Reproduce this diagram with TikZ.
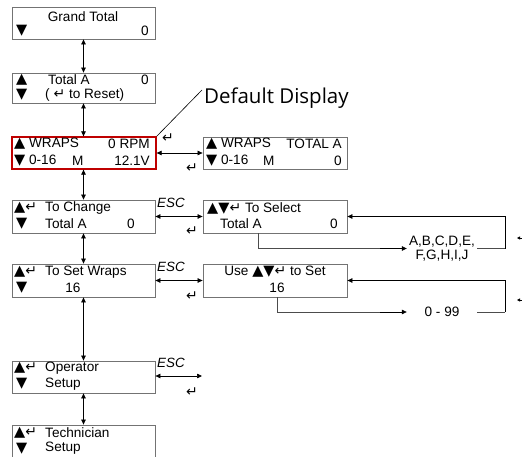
\documentclass[tikz,border=0pt]{standalone}
\usepackage{fontspec}
\setmainfont{Liberation Sans}
\newfontfamily\symf{DejaVu Sans}
\newfontfamily\ddfont{Open Sans}
\usetikzlibrary{arrows.meta}
\newcommand{\up}{{\symf\fontsize{14.5}{14}\selectfont ▲}}
\newcommand{\dn}{{\symf\fontsize{14.5}{14}\selectfont ▼}}
\newcommand{\ret}{{\symf\fontsize{14}{14}\selectfont ↵}}
\begin{document}
\begin{tikzpicture}[x=1pt,y=-1pt,
  box/.style={draw=black!55,line width=0.8pt,minimum width=143pt,minimum height=32pt,inner sep=0pt},
  redbox/.style={draw=red!75!black,line width=1.3pt,minimum width=144pt,minimum height=32pt,inner sep=0pt},
  txt/.style={inner sep=0pt,font=\fontsize{13.6}{14}\selectfont},
  lt/.style={txt,anchor=west},
  rt/.style={txt,anchor=east},
  dbl/.style={{Triangle[length=5pt,width=4.5pt]}-{Triangle[length=5pt,width=4.5pt]},line width=0.7pt},
  arr/.style={-{Triangle[length=5pt,width=4.5pt]},line width=0.7pt},
  ln/.style={line width=0.7pt,draw=black!70},
  esc/.style={inner sep=0pt,font=\fontsize{13.4}{14}\selectfont\itshape},
  rg/.style={inner sep=0pt}]
\useasboundingbox (0,0) rectangle (522,457);
% boxes
\node[box] (gt) at (83.5,23) {};
\node[box,minimum height=30pt] (ta) at (83.5,88) {};
\node[redbox] (wr) at (84,153) {};
\node[box,minimum width=144pt] (wr2) at (275,153) {};
\node[box,minimum height=33pt] (tc) at (83.5,216.5) {};
\node[box,minimum width=144pt,minimum height=33pt] (ts) at (275,216.5) {};
\node[box,minimum height=33pt] (sw) at (83.5,280.5) {};
\node[box,minimum width=144pt,minimum height=33pt] (use) at (275,280.5) {};
\node[box] (op) at (83.5,377) {};
\node[box] (tech) at (83.5,441) {};
% texts
\node[txt] (gt1) at (83,17) {Grand Total};
\node[lt] (gt2) at (16,31) {\dn};
\node[rt] (gt3) at (149,31) {0};
\node[lt] (ta1) at (16,80) {\up};
\node[lt] (ta2) at (48,80) {Total A};
\node[rt] (ta3) at (149,80) {0};
\node[lt] (ta4) at (16,94.5) {\dn};
\node[lt] (ta5) at (45,94.5) {( \ret\ to Reset)};
\node[lt] (wr1) at (14,144) {\up\ WRAPS};
\node[rt] (wr3) at (150,144) {0 RPM};
\node[lt] (wr4) at (14,161) {\dn\ 0-16};
\node[lt] (wr5) at (72,161) {M};
\node[rt] (wr6) at (150,161) {12.1V};
\node[lt] (wq1) at (206,144) {\up\ WRAPS};
\node[rt] (wq3) at (342,144) {TOTAL A};
\node[lt] (wq4) at (206,161) {\dn\ 0-16};
\node[lt] (wq5) at (263,161) {M};
\node[rt] (wq6) at (342,161) {0};
\node[lt] (tc1) at (14,208) {\up\ret};
\node[lt] (tc2) at (45,208) {To Change};
\node[lt] (tc3) at (16,224) {\dn};
\node[lt] (tc4) at (45,224) {Total A};
\node[rt] (tc5) at (135,224) {0};
\node[lt] (ts1) at (207,208) {\up\dn\ret\ To Select};
\node[lt] (ts2) at (220,224) {Total A};
\node[rt] (ts3) at (338,224) {0};
\node[lt] (sw1) at (14,272) {\up\ret};
\node[lt] (sw2) at (45,272) {To Set Wraps};
\node[lt] (sw3) at (16,288) {\dn};
\node[txt] (sw4) at (73,288) {16};
\node[txt] (us1) at (275,272) {Use \up\dn\ret\ to Set};
\node[txt] (us2) at (277,288) {16};
\node[lt] (op1) at (14,368) {\up\ret};
\node[lt] (op2) at (45,368) {Operator};
\node[lt] (op3) at (16,384) {\dn};
\node[lt] (op4) at (45,384) {Setup};
\node[lt] (te1) at (14,433) {\up\ret};
\node[lt] (te2) at (45,433) {Technician};
\node[lt] (te3) at (16,448.5) {\dn};
\node[lt] (te4) at (45,448.5) {Setup};
% default display
\node[inner sep=0pt,anchor=west,font=\ddfont\fontsize{20.5}{21}\selectfont] (dd) at (204,98) {Default Display};
\coordinate (ddl) at (202,90);
\draw[line width=0.6pt] (wr.north east) -- (ddl);
% vertical arrows
\draw[dbl] (gt.south) -- (ta.north);
\draw[dbl] (ta.south) -- (wr.north -| ta.south);
\draw[dbl] (wr.south -| tc.north) -- (tc.north);
\draw[dbl] (tc.south) -- (sw.north);
\draw[dbl] (sw.south) -- (op.north);
\draw[dbl] (op.south) -- (tech.north);
% horizontal arrows
\draw[dbl] (wr.east) -- (wr2.west);
\draw[dbl] (tc.east) -- (ts.west);
\draw[dbl] (sw.east) -- (use.west);
\coordinate (opend) at (202,376);
\draw[dbl] (op.east |- opend) -- (opend);
% ESC labels
\node[esc] (e1) at (171,203) {ESC};
\node[esc] (e2) at (171,267) {ESC};
\node[esc] (e3) at (171,363) {ESC};
% return glyphs
\node[rg] (r1) at (168,138) {\ret};
\node[rg] (r2) at (192,168) {\ret};
\node[rg] (r3) at (192,231) {\ret};
\node[rg] (r4) at (192,296) {\ret};
\node[rg] (r5) at (192,392) {\ret};
% loops
\node[txt,align=center,minimum width=70pt,text width=70pt,font=\fontsize{13.6}{13.5}\selectfont] (abc) at (442,248.5) {A,B,C,D,E,\\F,G,H,I,J};
\node[txt,minimum width=70pt] (n99) at (442,312) {0 - 99};
\coordinate (c1) at (505,248.5);
\coordinate (c2) at (505,312);
\coordinate (a1) at (380,248.5);
\coordinate (a2) at (380,312);
\draw[ln] ([xshift=-17pt]ts.south) |- (a1);
\draw[arr] (a1) -- (abc.west);
\draw[ln] (abc.east) -- (c1);
\draw[arr] (c1) |- (ts.east);
\draw[ln] ([xshift=2pt]use.south) |- (a2);
\draw[arr] (a2) -- (n99.west);
\draw[ln] (n99.east) -- (c2);
\draw[arr] (c2) |- (use.east);
% edge marks
\coordinate (m1) at (522,238);
\coordinate (m2) at (522,300);
\draw[-{Triangle[length=3pt,width=3pt]},line width=0.5pt] (m1) -- ++(-5,0);
\draw[-{Triangle[length=3pt,width=3pt]},line width=0.5pt] (m2) -- ++(-5,0);
\end{tikzpicture}
\end{document}
